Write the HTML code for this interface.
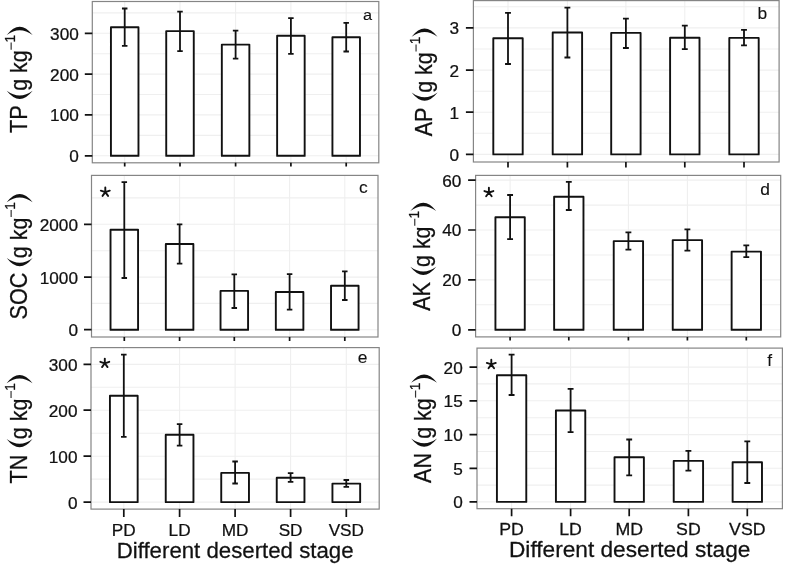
<!DOCTYPE html><html><head><meta charset="utf-8"><style>html,body{margin:0;padding:0;background:#fff;width:787px;height:566px;overflow:hidden}svg{display:block;filter:grayscale(1)}text{font-family:"Liberation Sans",sans-serif;fill:#111;stroke:#111;stroke-width:0.25px}</style></head><body>
<svg width="787" height="566" viewBox="0 0 787 566">
<rect width="787" height="566" fill="#fff"/>
<path d="M92.3 135.4H378.8M92.3 94.5H378.8M92.3 53.7H378.8M92.3 12.9H378.8M92.3 155.8H378.8M92.3 114.9H378.8M92.3 74.1H378.8M92.3 33.3H378.8M124.7 1.5V162.8M180 1.5V162.8M235.6 1.5V162.8M290.9 1.5V162.8M346.2 1.5V162.8" stroke="#efefef" stroke-width="1.1" fill="none"/>
<rect x="92.3" y="1.5" width="286.5" height="161.3" fill="none" stroke="#858585" stroke-width="1.2"/>
<path d="M84.8 155.8H92.3M84.8 114.9H92.3M84.8 74.1H92.3M84.8 33.3H92.3M124.7 162.8V166.5M180 162.8V166.5M235.6 162.8V166.5M290.9 162.8V166.5M346.2 162.8V166.5" stroke="#111" stroke-width="1.7" fill="none"/>
<text transform="translate(78.8 162.2) scale(1.055 1)" text-anchor="end" font-size="16.3">0</text>
<text transform="translate(78.8 121.3) scale(1.055 1)" text-anchor="end" font-size="16.3">100</text>
<text transform="translate(78.8 80.5) scale(1.055 1)" text-anchor="end" font-size="16.3">200</text>
<text transform="translate(78.8 39.7) scale(1.055 1)" text-anchor="end" font-size="16.3">300</text>
<path d="M110.93 155.8V27.3H138.47V155.8M110.08 155.8H139.32M166.23 155.8V31.1H193.77V155.8M165.38 155.8H194.62M221.83 155.8V44.6H249.37V155.8M220.98 155.8H250.22M277.13 155.8V35.8H304.67V155.8M276.28 155.8H305.52M332.43 155.8V37.2H359.97V155.8M331.58 155.8H360.82" stroke="#111" stroke-width="1.9" fill="#fff" stroke-linejoin="round"/>
<path d="M124.7 8.5V45.9M121.95 8.5H127.45M121.95 45.9H127.45M180 11.7V51.1M177.25 11.7H182.75M177.25 51.1H182.75M235.6 30.6V58.7M232.85 30.6H238.35M232.85 58.7H238.35M290.9 18.1V53.9M288.15 18.1H293.65M288.15 53.9H293.65M346.2 22.9V51.5M343.45 22.9H348.95M343.45 51.5H348.95" stroke="#111" stroke-width="1.8" fill="none"/>
<text transform="translate(362.9 20) scale(1.055 1)" font-size="15.5" style="stroke-width:0.1px">a</text>
<g transform="translate(26.6 132.6) scale(1.08 1) rotate(-90)" fill="#111">
<text x="-0.4" y="0" font-size="21.6">TP</text>
<text x="41.75" y="0" font-size="21.4">g kg</text>
<text x="90.2" y="-10.35" font-size="13.6">1</text>
<path d="M82.9 -14.3H90" stroke="#333" stroke-width="1.1"/>
<path d="M41.9 -18.4Q25.4 -6.4 41.9 5.6Q32.4 -6.4 41.9 -18.4Z"/>
<path d="M97.7 -18.4Q114.2 -6.4 97.7 5.6Q107.2 -6.4 97.7 -18.4Z"/>
</g>
<path d="M473.4 133.3H779.1M473.4 91.2H779.1M473.4 49H779.1M473.4 6.8H779.1M473.4 154.4H779.1M473.4 112.2H779.1M473.4 70.1H779.1M473.4 27.9H779.1M508 0.6V162M567.4 0.6V162M625.9 0.6V162M684.8 0.6V162M744 0.6V162" stroke="#efefef" stroke-width="1.1" fill="none"/>
<rect x="473.4" y="0.6" width="305.7" height="161.4" fill="none" stroke="#858585" stroke-width="1.2"/>
<path d="M465.9 154.4H473.4M465.9 112.2H473.4M465.9 70.1H473.4M465.9 27.9H473.4M508 162V167.5M567.4 162V167.5M625.9 162V167.5M684.8 162V167.5M744 162V167.5" stroke="#111" stroke-width="1.7" fill="none"/>
<text transform="translate(459.1 160.8) scale(1.055 1)" text-anchor="end" font-size="16.3">0</text>
<text transform="translate(459.1 118.6) scale(1.055 1)" text-anchor="end" font-size="16.3">1</text>
<text transform="translate(459.1 76.5) scale(1.055 1)" text-anchor="end" font-size="16.3">2</text>
<text transform="translate(459.1 34.3) scale(1.055 1)" text-anchor="end" font-size="16.3">3</text>
<path d="M493.3 154.4V38.2H522.7V154.4M492.45 154.4H523.55M552.7 154.4V32.5H582.1V154.4M551.85 154.4H582.95M611.2 154.4V32.9H640.6V154.4M610.35 154.4H641.45M670.1 154.4V37.7H699.5V154.4M669.25 154.4H700.35M729.3 154.4V37.9H758.7V154.4M728.45 154.4H759.55" stroke="#111" stroke-width="1.9" fill="#fff" stroke-linejoin="round"/>
<path d="M508 12.8V64M505.06 12.8H510.94M505.06 64H510.94M567.4 7.7V57.5M564.46 7.7H570.34M564.46 57.5H570.34M625.9 18.7V48M622.96 18.7H628.84M622.96 48H628.84M684.8 25.6V49.1M681.86 25.6H687.74M681.86 49.1H687.74M744 29.9V45.4M741.06 29.9H746.94M741.06 45.4H746.94" stroke="#111" stroke-width="1.8" fill="none"/>
<text transform="translate(757.4 19) scale(1.055 1)" font-size="16.5" style="stroke-width:0.1px">b</text>
<g transform="translate(431.5 135.9) scale(1.08 1) rotate(-90)" fill="#111">
<text x="-0.4" y="0" font-size="21.6">AP</text>
<text x="43.15" y="0" font-size="21.4">g kg</text>
<text x="91.6" y="-10.35" font-size="13.6">1</text>
<path d="M84.3 -14.3H91.4" stroke="#333" stroke-width="1.1"/>
<path d="M43.3 -18.4Q26.8 -6.4 43.3 5.6Q33.8 -6.4 43.3 -18.4Z"/>
<path d="M99.1 -18.4Q115.6 -6.4 99.1 5.6Q108.6 -6.4 99.1 -18.4Z"/>
</g>
<path d="M91.5 303.4H378M91.5 250.7H378M91.5 197.9H378M91.5 329.7H378M91.5 277.1H378M91.5 224.3H378M124.3 175.4V337M179.6 175.4V337M234.3 175.4V337M289.6 175.4V337M344.8 175.4V337" stroke="#efefef" stroke-width="1.1" fill="none"/>
<rect x="91.5" y="175.4" width="286.5" height="161.6" fill="none" stroke="#858585" stroke-width="1.2"/>
<path d="M84 329.7H91.5M84 277.1H91.5M84 224.3H91.5M124.3 337V341M179.6 337V341M234.3 337V341M289.6 337V341M344.8 337V341" stroke="#111" stroke-width="1.7" fill="none"/>
<text transform="translate(78 336.1) scale(1.055 1)" text-anchor="end" font-size="16.3">0</text>
<text transform="translate(78 283.5) scale(1.055 1)" text-anchor="end" font-size="16.3">1000</text>
<text transform="translate(78 230.7) scale(1.055 1)" text-anchor="end" font-size="16.3">2000</text>
<path d="M110.53 329.7V229.7H138.07V329.7M109.68 329.7H138.92M165.83 329.7V244H193.37V329.7M164.98 329.7H194.22M220.53 329.7V290.9H248.07V329.7M219.68 329.7H248.92M275.83 329.7V292H303.37V329.7M274.98 329.7H304.22M331.03 329.7V285.8H358.57V329.7M330.18 329.7H359.42" stroke="#111" stroke-width="1.9" fill="#fff" stroke-linejoin="round"/>
<path d="M124.3 182.1V278M121.55 182.1H127.05M121.55 278H127.05M179.6 224.3V263.6M176.85 224.3H182.35M176.85 263.6H182.35M234.3 274.4V308M231.55 274.4H237.05M231.55 308H237.05M289.6 274.2V309.6M286.85 274.2H292.35M286.85 309.6H292.35M344.8 271.4V300M342.05 271.4H347.55M342.05 300H347.55" stroke="#111" stroke-width="1.8" fill="none"/>
<text transform="translate(358.9 192.8) scale(1.055 1)" font-size="16.5" style="stroke-width:0.1px">c</text>
<path d="M105.3 192.1L105.3 187.4M105.3 192.1L109.77 190.65M105.3 192.1L108.06 195.9M105.3 192.1L102.54 195.9M105.3 192.1L100.83 190.65" stroke="#111" stroke-width="1.9" stroke-linecap="round"/>
<g transform="translate(26.6 319) scale(1.08 1) rotate(-90)" fill="#111">
<text x="-0.4" y="0" font-size="21.6">SOC</text>
<text x="60.85" y="0" font-size="21.4">g kg</text>
<text x="109.3" y="-10.35" font-size="13.6">1</text>
<path d="M102 -14.3H109.1" stroke="#333" stroke-width="1.1"/>
<path d="M61 -18.4Q44.5 -6.4 61 5.6Q51.5 -6.4 61 -18.4Z"/>
<path d="M116.8 -18.4Q133.3 -6.4 116.8 5.6Q126.3 -6.4 116.8 -18.4Z"/>
</g>
<path d="M475.6 304.8H780.7M475.6 255H780.7M475.6 205.1H780.7M475.6 329.8H780.7M475.6 279.9H780.7M475.6 230H780.7M475.6 180.1H780.7M510.1 175.4V336.9M568.8 175.4V336.9M628.4 175.4V336.9M687.4 175.4V336.9M746.3 175.4V336.9" stroke="#efefef" stroke-width="1.1" fill="none"/>
<rect x="475.6" y="175.4" width="305.1" height="161.5" fill="none" stroke="#858585" stroke-width="1.2"/>
<path d="M468.1 329.8H475.6M468.1 279.9H475.6M468.1 230H475.6M468.1 180.1H475.6M510.1 336.9V340.5M568.8 336.9V340.5M628.4 336.9V340.5M687.4 336.9V340.5M746.3 336.9V340.5" stroke="#111" stroke-width="1.7" fill="none"/>
<text transform="translate(461.3 336.2) scale(1.055 1)" text-anchor="end" font-size="16.3">0</text>
<text transform="translate(461.3 286.3) scale(1.055 1)" text-anchor="end" font-size="16.3">20</text>
<text transform="translate(461.3 236.4) scale(1.055 1)" text-anchor="end" font-size="16.3">40</text>
<text transform="translate(461.3 186.5) scale(1.055 1)" text-anchor="end" font-size="16.3">60</text>
<path d="M495.43 329.8V217.3H524.77V329.8M494.58 329.8H525.62M554.13 329.8V196.8H583.47V329.8M553.28 329.8H584.32M613.73 329.8V241.1H643.07V329.8M612.88 329.8H643.92M672.73 329.8V240.1H702.07V329.8M671.88 329.8H702.92M731.63 329.8V251.6H760.97V329.8M730.78 329.8H761.82" stroke="#111" stroke-width="1.9" fill="#fff" stroke-linejoin="round"/>
<path d="M510.1 195V239.1M507.17 195H513.03M507.17 239.1H513.03M568.8 181.8V210M565.87 181.8H571.73M565.87 210H571.73M628.4 232.4V249.7M625.47 232.4H631.33M625.47 249.7H631.33M687.4 229.3V250.7M684.47 229.3H690.33M684.47 250.7H690.33M746.3 245.4V257.2M743.37 245.4H749.23M743.37 257.2H749.23" stroke="#111" stroke-width="1.8" fill="none"/>
<text transform="translate(760.3 195.1) scale(1.055 1)" font-size="16.5" style="stroke-width:0.1px">d</text>
<path d="M488.9 192.5L488.9 187.8M488.9 192.5L493.37 191.05M488.9 192.5L491.66 196.3M488.9 192.5L486.14 196.3M488.9 192.5L484.43 191.05" stroke="#111" stroke-width="1.9" stroke-linecap="round"/>
<g transform="translate(430.2 310.4) scale(1.08 1) rotate(-90)" fill="#111">
<text x="-0.4" y="0" font-size="21.6">AK</text>
<text x="43.45" y="0" font-size="21.4">g kg</text>
<text x="91.9" y="-10.35" font-size="13.6">1</text>
<path d="M84.6 -14.3H91.7" stroke="#333" stroke-width="1.1"/>
<path d="M43.6 -18.4Q27.1 -6.4 43.6 5.6Q34.1 -6.4 43.6 -18.4Z"/>
<path d="M99.4 -18.4Q115.9 -6.4 99.4 5.6Q108.9 -6.4 99.4 -18.4Z"/>
</g>
<path d="M91 479.1H379.2M91 433.2H379.2M91 387.3H379.2M91 502.1H379.2M91 456.2H379.2M91 410.2H379.2M91 364.4H379.2M123.8 347.6V509.1M179.6 347.6V509.1M235.1 347.6V509.1M290.6 347.6V509.1M346.3 347.6V509.1" stroke="#efefef" stroke-width="1.1" fill="none"/>
<rect x="91" y="347.6" width="288.2" height="161.5" fill="none" stroke="#858585" stroke-width="1.2"/>
<path d="M83.5 502.1H91M83.5 456.2H91M83.5 410.2H91M83.5 364.4H91M123.8 509.1V517M179.6 509.1V517M235.1 509.1V517M290.6 509.1V517M346.3 509.1V517" stroke="#111" stroke-width="1.7" fill="none"/>
<text transform="translate(77.5 508.5) scale(1.055 1)" text-anchor="end" font-size="16.3">0</text>
<text transform="translate(77.5 462.6) scale(1.055 1)" text-anchor="end" font-size="16.3">100</text>
<text transform="translate(77.5 416.6) scale(1.055 1)" text-anchor="end" font-size="16.3">200</text>
<text transform="translate(77.5 370.8) scale(1.055 1)" text-anchor="end" font-size="16.3">300</text>
<path d="M109.94 502.1V395.8H137.66V502.1M109.09 502.1H138.51M165.74 502.1V434.8H193.46V502.1M164.89 502.1H194.31M221.24 502.1V472.9H248.96V502.1M220.39 502.1H249.81M276.74 502.1V477.7H304.46V502.1M275.89 502.1H305.31M332.44 502.1V483.6H360.16V502.1M331.59 502.1H361.01" stroke="#111" stroke-width="1.9" fill="#fff" stroke-linejoin="round"/>
<path d="M123.8 354.7V436.8M121.03 354.7H126.57M121.03 436.8H126.57M179.6 424.2V445.6M176.83 424.2H182.37M176.83 445.6H182.37M235.1 461.5V483.5M232.33 461.5H237.87M232.33 483.5H237.87M290.6 473.2V481.8M287.83 473.2H293.37M287.83 481.8H293.37M346.3 480V486.8M343.53 480H349.07M343.53 486.8H349.07" stroke="#111" stroke-width="1.8" fill="none"/>
<text transform="translate(357.8 362.6) scale(1.055 1)" font-size="16.5" style="stroke-width:0.1px">e</text>
<path d="M104.8 363.3L104.8 358.6M104.8 363.3L109.27 361.85M104.8 363.3L107.56 367.1M104.8 363.3L102.04 367.1M104.8 363.3L100.33 361.85" stroke="#111" stroke-width="1.9" stroke-linecap="round"/>
<g transform="translate(26.5 483) scale(1.08 1) rotate(-90)" fill="#111">
<text x="-0.4" y="0" font-size="21.6">TN</text>
<text x="43.85" y="0" font-size="21.4">g kg</text>
<text x="92.3" y="-10.35" font-size="13.6">1</text>
<path d="M85 -14.3H92.1" stroke="#333" stroke-width="1.1"/>
<path d="M44 -18.4Q27.5 -6.4 44 5.6Q34.5 -6.4 44 -18.4Z"/>
<path d="M99.8 -18.4Q116.3 -6.4 99.8 5.6Q109.3 -6.4 99.8 -18.4Z"/>
</g>
<path d="M477 485.1H782.4M477 451.5H782.4M477 417.7H782.4M477 383.9H782.4M477 501.9H782.4M477 468.3H782.4M477 434.6H782.4M477 400.8H782.4M477 367.1H782.4M511.6 348.1V508.7M570.6 348.1V508.7M629.2 348.1V508.7M688.4 348.1V508.7M747.3 348.1V508.7" stroke="#efefef" stroke-width="1.1" fill="none"/>
<rect x="477" y="348.1" width="305.4" height="160.6" fill="none" stroke="#858585" stroke-width="1.2"/>
<path d="M469.5 501.9H477M469.5 468.3H477M469.5 434.6H477M469.5 400.8H477M469.5 367.1H477M511.6 508.7V516.2M570.6 508.7V516.2M629.2 508.7V516.2M688.4 508.7V516.2M747.3 508.7V516.2" stroke="#111" stroke-width="1.7" fill="none"/>
<text transform="translate(462.7 508.3) scale(1.055 1)" text-anchor="end" font-size="16.3">0</text>
<text transform="translate(462.7 474.7) scale(1.055 1)" text-anchor="end" font-size="16.3">5</text>
<text transform="translate(462.7 441) scale(1.055 1)" text-anchor="end" font-size="16.3">10</text>
<text transform="translate(462.7 407.2) scale(1.055 1)" text-anchor="end" font-size="16.3">15</text>
<text transform="translate(462.7 373.5) scale(1.055 1)" text-anchor="end" font-size="16.3">20</text>
<path d="M496.92 501.9V375.3H526.28V501.9M496.07 501.9H527.13M555.92 501.9V410.5H585.28V501.9M555.07 501.9H586.13M614.52 501.9V457.3H643.88V501.9M613.67 501.9H644.73M673.72 501.9V460.9H703.08V501.9M672.87 501.9H703.93M732.62 501.9V462.3H761.98V501.9M731.77 501.9H762.83" stroke="#111" stroke-width="1.9" fill="#fff" stroke-linejoin="round"/>
<path d="M511.6 354.7V395M508.66 354.7H514.54M508.66 395H514.54M570.6 388.8V432.1M567.66 388.8H573.54M567.66 432.1H573.54M629.2 439.5V475.4M626.26 439.5H632.14M626.26 475.4H632.14M688.4 450.9V470.6M685.46 450.9H691.34M685.46 470.6H691.34M747.3 441.4V483M744.36 441.4H750.24M744.36 483H750.24" stroke="#111" stroke-width="1.8" fill="none"/>
<text transform="translate(767.2 365.5) scale(1.055 1)" font-size="16.5" style="stroke-width:0.1px">f</text>
<path d="M491.3 364.4L491.3 359.7M491.3 364.4L495.77 362.95M491.3 364.4L494.06 368.2M491.3 364.4L488.54 368.2M491.3 364.4L486.83 362.95" stroke="#111" stroke-width="1.9" stroke-linecap="round"/>
<g transform="translate(431 482.6) scale(1.08 1) rotate(-90)" fill="#111">
<text x="-0.4" y="0" font-size="21.6">AN</text>
<text x="43.85" y="0" font-size="21.4">g kg</text>
<text x="92.3" y="-10.35" font-size="13.6">1</text>
<path d="M85 -14.3H92.1" stroke="#333" stroke-width="1.1"/>
<path d="M44 -18.4Q27.5 -6.4 44 5.6Q34.5 -6.4 44 -18.4Z"/>
<path d="M99.8 -18.4Q116.3 -6.4 99.8 5.6Q109.3 -6.4 99.8 -18.4Z"/>
</g>
<text transform="translate(123.8 535.6) scale(1.055 1)" text-anchor="middle" font-size="16.3">PD</text>
<text transform="translate(179.6 535.6) scale(1.055 1)" text-anchor="middle" font-size="16.3">LD</text>
<text transform="translate(235.1 535.6) scale(1.055 1)" text-anchor="middle" font-size="16.3">MD</text>
<text transform="translate(290.6 535.6) scale(1.055 1)" text-anchor="middle" font-size="16.3">SD</text>
<text transform="translate(346.3 535.6) scale(1.055 1)" text-anchor="middle" font-size="16.3">VSD</text>
<text transform="translate(235.1 558) scale(1.03 1)" text-anchor="middle" font-size="21.6">Different deserted stage</text>
<text transform="translate(511.6 535.2) scale(1.09 1)" text-anchor="middle" font-size="16.3">PD</text>
<text transform="translate(570.6 535.2) scale(1.09 1)" text-anchor="middle" font-size="16.3">LD</text>
<text transform="translate(629.2 535.2) scale(1.09 1)" text-anchor="middle" font-size="16.3">MD</text>
<text transform="translate(688.4 535.2) scale(1.09 1)" text-anchor="middle" font-size="16.3">SD</text>
<text transform="translate(747.3 535.2) scale(1.09 1)" text-anchor="middle" font-size="16.3">VSD</text>
<text transform="translate(629.7 557.3) scale(1.05 1)" text-anchor="middle" font-size="21.6">Different deserted stage</text>
</svg></body></html>
